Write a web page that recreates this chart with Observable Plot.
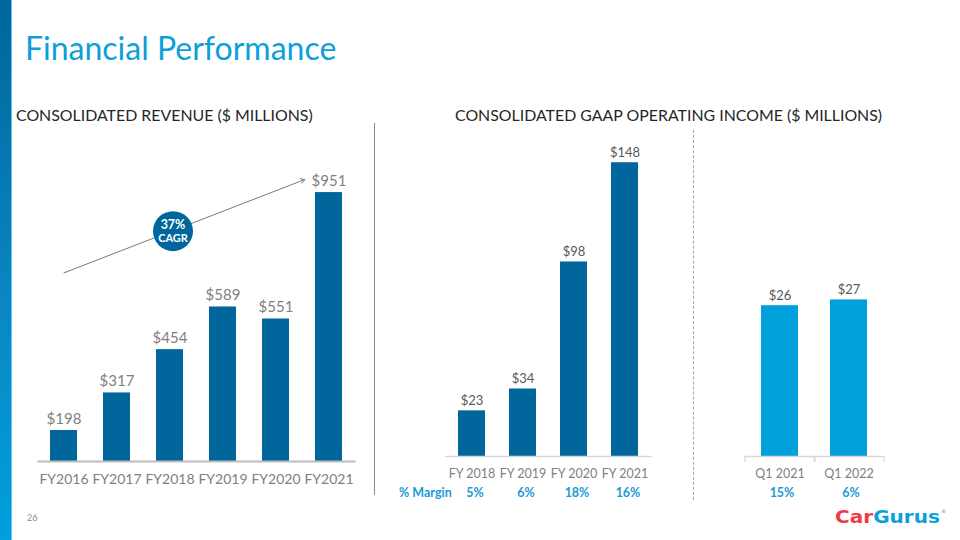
<!DOCTYPE html>
<html>
<head>
<meta charset="utf-8">
<script src="https://cdn.jsdelivr.net/npm/d3@7"></script>
<script src="https://cdn.jsdelivr.net/npm/@observablehq/plot@0.6"></script>
<style>
  html, body { margin: 0; padding: 0; background: #fff; }
  #slide { position: relative; width: 960px; height: 540px; overflow: hidden; font-family: Lato, "Open Sans", sans-serif; background: #fff; }
  .abs { position: absolute; }
  #sidebar { left: 0; top: 0; width: 11px; height: 540px; background: linear-gradient(to bottom, #00669b 0%, #0a86c2 55%, #00a0dd 100%); }
  #sidebar2 { left: 11px; top: 0; width: 1px; height: 540px; background: #5fc3ee; }
  #title { left: 25px; top: 28px; font-size: 32px; color: #0c9fdb; white-space: nowrap; line-height: 40px; }
  .sub { top: 104px; font-size: 15.9px; color: #262626; white-space: nowrap; line-height: 22px; }
  #pagenum { left: 27px; top: 512px; font-size: 9px; color: #8c8c8c; }
  #vsep { left: 374px; top: 123px; width: 1px; height: 372px; background: #8a8a8a; }
  #dsep { left: 693px; top: 130px; width: 0; height: 370px; border-left: 1.5px dashed #a6a6a6; }
</style>
</head>
<body>
<div id="slide">
  <div id="sidebar" class="abs"></div>
  <div id="sidebar2" class="abs"></div>
  <div id="title" class="abs">Financial Performance</div>
  <div class="abs sub" style="left:16px">CONSOLIDATED REVENUE ($ MILLIONS)</div>
  <div class="abs sub" style="left:455px">CONSOLIDATED GAAP OPERATING INCOME ($ MILLIONS)</div>
  <div id="vsep" class="abs"></div>
  <div id="dsep" class="abs"></div>
  <div id="pagenum" class="abs">26</div>
  <div id="c1" class="abs" style="left:0;top:130px"></div>
  <div id="c2" class="abs" style="left:380px;top:130px"></div>
  <div id="c3" class="abs" style="left:700px;top:130px"></div>
  <svg class="abs" style="left:830px;top:504px" width="125" height="26">
    <text x="5" y="19" font-family="DejaVu Sans" font-weight="bold" font-size="17" textLength="105" lengthAdjust="spacingAndGlyphs"><tspan fill="#ee3b43">Car</tspan><tspan fill="#0aa0dc">Gurus</tspan></text>
    <text x="111" y="9" font-family="DejaVu Sans" font-size="5" fill="#0aa0dc">®</text>
  </svg>
</div>
<script>
// ---- Data ----
const revYears = ["FY2016", "FY2017", "FY2018", "FY2019", "FY2020", "FY2021"];
const revValues = [198, 317, 454, 589, 551, 951];

const incYears = ["FY 2018", "FY 2019", "FY 2020", "FY 2021"];
const incValues = [23, 34, 98, 148];
const incMargins = [5, 6, 18, 16];

const qtrLabels = ["Q1 2021", "Q1 2022"];
const qtrValues = [26, 27];
const qtrMargins = [15, 6];

const cagrText = ["37%", "CAGR"];
const marginLabel = "% Margin";
// CAGR trend arrow, in data units
const cagrArrow = [{x1: "FY2016", y1: 697, x2: "FY2021", y2: 1022}];
const cagrBadge = [{x: "FY2018", y: 829}];

// ---- Tables ----
const revData = revYears.map((year, i) => ({year, value: revValues[i]}));
const incData = incYears.map((year, i) => ({year, value: incValues[i], margin: incMargins[i]}));
const qtrData = qtrLabels.map((year, i) => ({year, value: qtrValues[i], margin: qtrMargins[i]}));

const DARK = "#00669b";
const LIGHT = "#00a0dc";
const baseStyle = {fontFamily: "Lato, sans-serif", background: "transparent", overflow: "visible"};

// ---- Chart 1: revenue ----
const c1 = Plot.plot({
  width: 380, height: 380,
  marginTop: 15, marginBottom: 49, marginLeft: 37.5, marginRight: 24.5,
  style: {...baseStyle, color: "#7f7f7f"},
  x: {domain: revYears, paddingInner: 0.49, paddingOuter: 0.245, label: null},
  y: {domain: [100, 1100], clamp: true, axis: null},
  marks: [
    Plot.barY(revData, {x: "year", y: "value", fill: DARK}),
    Plot.ruleY([100], {stroke: "#bdbdbd", strokeWidth: 2}),
    Plot.axisX({tickSize: 0, tickPadding: 13, fontSize: 14, color: "#7f7f7f", label: null}),
    Plot.text(revData, {x: "year", y: "value", text: d => "$" + d.value, lineAnchor: "bottom", dy: -7, fill: "#7f7f7f", fontSize: 15}),
    Plot.arrow(cagrArrow, {x1: "x1", y1: "y1", x2: "x2", y2: "y2", insetEnd: 26, stroke: "#7a7a7a", strokeWidth: 1, headLength: 7, bend: 0}),
    Plot.dot(cagrBadge, {x: "x", y: "y", r: 20, fill: DARK, dx: 3}),
    Plot.text(cagrBadge, {x: "x", y: "y", text: () => cagrText[0], dx: 3, dy: -6, fill: "white", fontWeight: "bold", fontSize: 12.5, lineAnchor: "middle"}),
    Plot.text(cagrBadge, {x: "x", y: "y", text: () => cagrText[1], dx: 3, dy: 7, fill: "white", fontWeight: "bold", fontSize: 11, lineAnchor: "middle"})
  ]
});
document.getElementById("c1").append(c1);

// ---- Chart 2: annual operating income ----
const c2 = Plot.plot({
  width: 300, height: 380,
  marginTop: 8.4, marginBottom: 54, marginLeft: 64.75, marginRight: 28.25,
  style: {...baseStyle, color: "#7f7f7f"},
  x: {domain: incYears, paddingInner: 0.476, paddingOuter: 0.248, label: null},
  y: {domain: [0, 160], axis: null},
  marks: [
    Plot.barY(incData, {x: "year", y: "value", fill: DARK}),
    Plot.ruleY([0], {stroke: "#d9d9d9", strokeWidth: 1.5}),
    Plot.axisX({tickSize: 0, tickPadding: 12.5, fontSize: 12.5, color: "#7f7f7f", label: null}),
    Plot.text(incData, {x: "year", y: "value", text: d => "$" + d.value, lineAnchor: "bottom", dy: -6, fill: "#595959", fontSize: 13}),
    Plot.text(incData, {x: "year", frameAnchor: "bottom", text: d => d.margin + "%", dx: 3, dy: 36, lineAnchor: "middle", fill: "#1a9ad6", fontWeight: "bold", fontSize: 12.5}),
    Plot.text([marginLabel], {frameAnchor: "bottom-left", text: d => d, dx: 6.5, dy: 36, textAnchor: "end", lineAnchor: "middle", fill: "#1a9ad6", fontWeight: "bold", fontSize: 12.5})
  ]
});
document.getElementById("c2").append(c2);

// ---- Chart 3: quarterly operating income ----
const c3 = Plot.plot({
  width: 260, height: 380,
  marginTop: 7, marginBottom: 54, marginLeft: 44, marginRight: 76,
  style: {...baseStyle, color: "#7f7f7f"},
  x: {domain: qtrLabels, paddingInner: 0.471, paddingOuter: 0.2357, label: null},
  y: {domain: [0, 55], axis: null},
  marks: [
    Plot.barY(qtrData, {x: "year", y: "value", fill: LIGHT}),
    Plot.ruleY([0], {stroke: "#d9d9d9", strokeWidth: 1.5}),
    Plot.ruleX(qtrData, {x: "year", y1: 0, y2: 0, dx: -35, insetBottom: -6, stroke: "#d9d9d9", strokeWidth: 1.2}),
    Plot.ruleX(qtrData, {x: "year", y1: 0, y2: 0, dx: 35, insetBottom: -6, stroke: "#d9d9d9", strokeWidth: 1.2}),
    Plot.axisX({tickSize: 0, tickPadding: 12.5, fontSize: 12.5, color: "#7f7f7f", label: null}),
    Plot.text(qtrData, {x: "year", y: "value", text: d => "$" + d.value, lineAnchor: "bottom", dy: -6, fill: "#595959", fontSize: 13}),
    Plot.text(qtrData, {x: "year", frameAnchor: "bottom", text: d => d.margin + "%", dx: 2, dy: 36, lineAnchor: "middle", fill: "#1a9ad6", fontWeight: "bold", fontSize: 12.5})
  ]
});
document.getElementById("c3").append(c3);
</script>
</body>
</html>
